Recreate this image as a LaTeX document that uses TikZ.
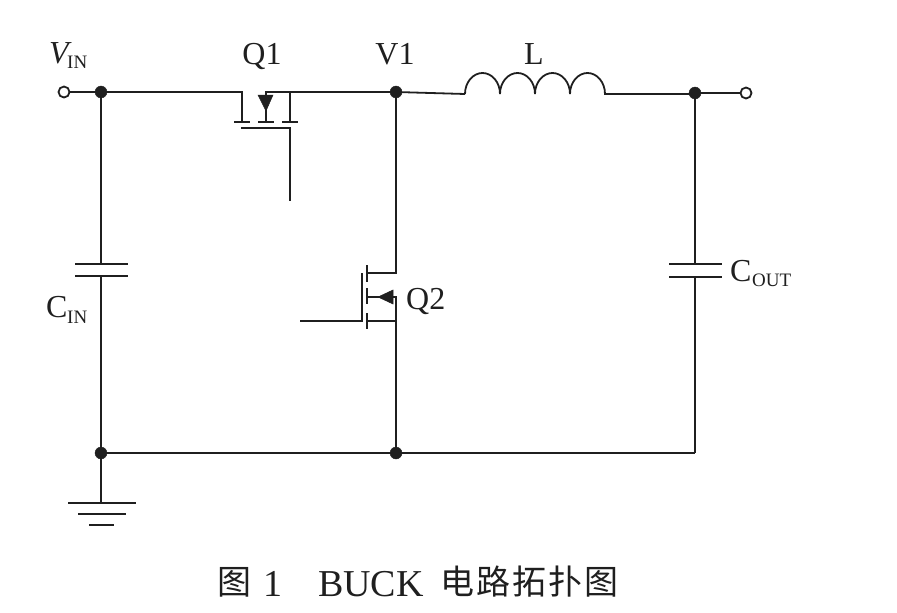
\documentclass[tikz,border=0pt]{standalone}
\usepackage{fontspec}
\setmainfont{Liberation Serif}
\newfontfamily\cjk{Noto Sans CJK SC}
\tikzset{
  wire/.style={line width=1.8pt,color=black!88},
  junction/.style={circle,fill=black!88,draw=black!88,inner sep=0pt,minimum size=12pt},
  terminal/.style={circle,fill=white,draw=black!88,line width=1.8pt,inner sep=0pt,minimum size=11pt},
  label/.style={inner sep=0pt,text=black!88,font=\fontsize{32}{32}\selectfont},
  sub/.style={font=\fontsize{19}{19}\selectfont},
  tip/.style={fill=black!88,draw=black!88,line width=.5pt}
}
\begin{document}
\begin{tikzpicture}[x=1pt,y=-1pt]
\useasboundingbox (0,0) rectangle (897,613);
% junctions and terminals
\node[terminal] (tin) at (64,92) {};
\node[junction] (j1) at (101,92) {};
\node[junction] (v1) at (396,92) {};
\node[junction] (j2) at (695,93) {};
\node[terminal] (tout) at (746,93) {};
\node[junction] (j3) at (101,453) {};
\node[junction] (j4) at (396,453) {};
\coordinate (j5) at (695,453);
\coordinate (gnd) at (101,503);
% top wires
\draw[wire] (tin) -- (j1) -- (242,92) -- (242,122);
\draw[wire] (266,122) -- (266,92) -- (v1);
\draw[wire] (290,92) -- (290,122);
\draw[wire] (v1) -- (465,94);
\draw[wire] (465,94) arc[start angle=180,end angle=360,x radius=17.5,y radius=21]
  arc[start angle=180,end angle=360,x radius=17.5,y radius=21]
  arc[start angle=180,end angle=360,x radius=17.5,y radius=21]
  arc[start angle=180,end angle=360,x radius=17.5,y radius=21] -- (695,94);
\draw[wire] (j2) -- (tout);
% Q1
\draw[wire] (234,122) -- (250,122) (258,122) -- (274,122) (282,122) -- (298,122);
\draw[wire] (241,128) -- (290,128) -- (290,201);
\draw[tip] (258,95) -- (273,95) -- (266,111) -- cycle;
% Q2
\draw[wire] (v1) -- (396,273) -- (367,273);
\draw[wire] (367,265) -- (367,282) (367,288) -- (367,304) (367,313) -- (367,329);
\draw[wire] (362,273) -- (362,321) -- (300,321);
\draw[wire] (367,321) -- (396,321);
\draw[wire] (367,297) -- (396,297) -- (j4);
\draw[tip] (378,297) -- (393,290) -- (393,304) -- cycle;
% capacitors
\draw[wire] (j1) -- (101,264) (101,276) -- (j3);
\draw[wire] (75,264) -- (128,264) (75,276) -- (128,276);
\draw[wire] (j2) -- (695,264) (695,277) -- (j5);
\draw[wire] (669,264) -- (722,264) (669,277) -- (722,277);
% bottom and ground
\draw[wire] (j3) -- (j5);
\draw[wire] (j3) -- (gnd);
\draw[wire] (68,503) -- (136,503) (78,514) -- (126,514) (89,525) -- (114,525);
% labels
\node[label,anchor=base west] (lvin) at (49,63) {\textit{V}};
\node[label,sub,anchor=base west] (lvins) at (67,68) {IN};
\node[label,anchor=base] (lq1) at (262,64) {Q1};
\node[label,anchor=base] (lv1) at (395,64) {V1};
\node[label,anchor=base] (ll) at (534,64) {L};
\node[label,anchor=base west] (lq2) at (406,309) {Q2};
\node[label,anchor=base west] (lcin) at (46,317) {C};
\node[label,sub,anchor=base west] (lcins) at (67,323) {IN};
\node[label,anchor=base west] (lcout) at (730,281) {C};
\node[label,sub,anchor=base west] (lcouts) at (752,286) {OUT};
% caption
\node[label,anchor=base west] (c1) at (217,594) {\fontsize{34}{34}\selectfont\cjk 图};
\node[label,anchor=base west] (c2) at (263,596) {\fontsize{38}{38}\selectfont 1};
\node[label,anchor=base west] (c3) at (318,596) {\fontsize{38}{38}\selectfont BUCK};
\node[label,anchor=base west] (c4) at (440,594) {\fontsize{34}{34}\selectfont\cjk 电\kern2pt路\kern2pt拓\kern2pt扑\kern2pt图};
\end{tikzpicture}
\end{document}
